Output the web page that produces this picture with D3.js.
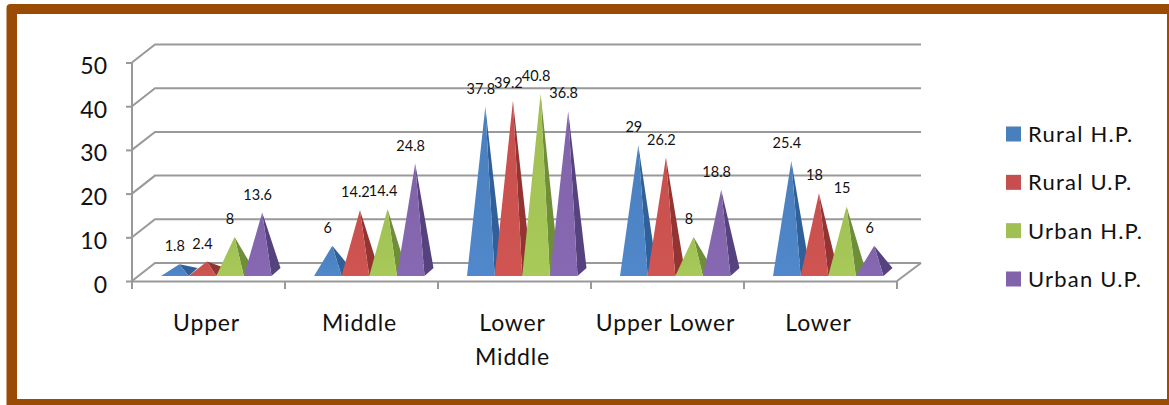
<!DOCTYPE html>
<html>
<head>
<meta charset="utf-8">
<script src="https://cdnjs.cloudflare.com/ajax/libs/d3/7.8.5/d3.min.js"></script>
<style>
  html, body { margin: 0; padding: 0; background: #fff; }
  svg { display: block; }
  text { font-family: Lato, "Open Sans", sans-serif; fill: #111; }
</style>
</head>
<body>
<div id="chart"></div>
<script>
const categories = ["Upper", "Middle", "Lower Middle", "Upper Lower", "Lower"];
const seriesNames = ["Rural H.P.", "Rural U.P.", "Urban H.P.", "Urban U.P."];
const ruralHP = [1.8, 6, 37.8, 29, 25.4];
const ruralUP = [2.4, 14.2, 39.2, 26.2, 18];
const urbanHP = [8, 14.4, 40.8, 8, 15];
const urbanUP = [13.6, 24.8, 36.8, 18.8, 6];
const yTicks = [0, 10, 20, 30, 40, 50];

const seriesValues = [ruralHP, ruralUP, urbanHP, urbanUP];
const frontColors = ["#4a7fbd", "#c64f4d", "#a0bf54", "#8063a8"];
const lightColors = ["#5088cb", "#d05552", "#a8ca59", "#8769b3"];
const sideColors = ["#30609a", "#933433", "#6f8e38", "#56427e"];

const width = 1169, height = 405;
const gridColor = "#999999";

const svg = d3.select("#chart").append("svg").attr("width", width).attr("height", height);

// 边框
svg.append("rect").attr("x", 6.5).attr("y", 4).attr("width", 1175).attr("height", 410).attr("rx", 4).attr("fill", "#9a4c05");
svg.append("rect").attr("x", 17).attr("y", 14).attr("width", 1150).attr("height", 385).attr("fill", "#fff");

const x = d3.scaleBand().domain(categories).range([132, 897]);
const y = d3.scaleLinear().domain([0, 50]).range([281, 62.5]);
const inner = d3.scaleBand().domain(seriesNames).range([29, 139.5]);

// 3D 偏移
const wallDx = 23, wallDy = -18;
const baseLift = 5, depthDx = 9, depthDy = -8;

// 网格线（侧壁 + 后壁）
const grid = svg.append("g").attr("fill", "none").attr("stroke", gridColor).attr("stroke-width", 2);
grid.selectAll("path.wall").data(yTicks).enter().append("path")
    .attr("class", "wall")
    .attr("d", d => `M${x.range()[0]},${y(d)}L${x.range()[0] + wallDx},${y(d) + wallDy}L${x.range()[1] + wallDx + 1},${y(d) + wallDy}`);
grid.append("path")
    .attr("d", `M${x.range()[1]},${y(0)}L${x.range()[1] + wallDx + 1},${y(0) + wallDy}`);

// y 轴
const yAxis = svg.append("g").attr("transform", `translate(${x.range()[0]},0)`)
    .call(d3.axisLeft(y).tickValues(yTicks).tickSize(6).tickPadding(19));
yAxis.select(".domain").attr("stroke", gridColor).attr("stroke-width", 2).attr("d", `M0,${y(50)}V${y(0) + 8}`);
yAxis.selectAll(".tick line").attr("stroke", gridColor).attr("stroke-width", 2);
yAxis.selectAll(".tick text").style("font-size", "23px").attr("dy", "0.48em").style("font-family", "Lato, sans-serif");

// x 轴
const xAxis = svg.append("g").attr("transform", `translate(0,${y(0)})`)
    .call(d3.axisBottom(x).tickSize(0).tickPadding(30));
xAxis.select(".domain").attr("stroke", gridColor).attr("stroke-width", 2);
xAxis.selectAll(".tick text").remove();
xAxis.selectAll("line.edge").data(x.domain().map(d => x(d)).concat(x.range()[1])).enter().append("line")
    .attr("class", "edge").attr("x1", d => d).attr("x2", d => d).attr("y1", 0).attr("y2", 8)
    .attr("stroke", gridColor).attr("stroke-width", 2);

// 类别标签，"Lower Middle" 换行
const catLabels = svg.append("g").attr("text-anchor", "middle").style("font-size", "23px").style("letter-spacing", "0.8px");
categories.forEach(c => {
    const lines = c === "Lower Middle" ? c.split(" ") : [c];
    lines.forEach((line, i) => {
        catLabels.append("text")
            .attr("x", x(c) + x.bandwidth() / 2 - 2)
            .attr("y", 331 + i * 34)
            .text(line);
    });
});

// 棱锥
const marks = svg.append("g");
const labels = svg.append("g").attr("text-anchor", "middle").style("font-size", "14.5px");
const defs = svg.append("defs");
seriesNames.forEach((s, i) => {
    const grad = defs.append("linearGradient").attr("id", "front" + i).attr("x1", 0).attr("y1", 0).attr("x2", 0).attr("y2", 1);
    grad.append("stop").attr("offset", "0%").attr("stop-color", frontColors[i]);
    grad.append("stop").attr("offset", "100%").attr("stop-color", lightColors[i]);
});

categories.forEach((c, ci) => {
    seriesNames.forEach((s, si) => {
        const v = seriesValues[si][ci];
        const x0 = x(c) + inner(s);
        const x1 = x0 + inner.bandwidth();
        const baseY = y(0) - baseLift;
        const apexX = (x0 + x1) / 2 + depthDx / 2;
        const apexY = y(v) - baseLift + depthDy / 2;
        const g = marks.append("g");
        g.append("path")
            .attr("d", `M${x1},${baseY}L${x1 + depthDx},${baseY + depthDy}L${apexX},${apexY}Z`)
            .attr("fill", sideColors[si]);
        g.append("path")
            .attr("d", `M${x0},${baseY}L${x1},${baseY}L${apexX},${apexY}Z`)
            .attr("fill", `url(#front${si})`);
        labels.append("text")
            .attr("x", apexX - 4.5)
            .attr("y", apexY - 13)
            .text(v);
    });
});

// 图例
const legendY = d3.scalePoint().domain(seriesNames).range([134, 279]);
const legend = svg.append("g");
seriesNames.forEach((s, i) => {
    legend.append("rect").attr("x", 1006).attr("y", legendY(s) - 7.5).attr("width", 15).attr("height", 15).attr("fill", frontColors[i]);
    legend.append("text").attr("x", 1028).attr("y", legendY(s) + 8).style("font-size", "22px").style("letter-spacing", "1.2px").text(s);
});
</script>
</body>
</html>
